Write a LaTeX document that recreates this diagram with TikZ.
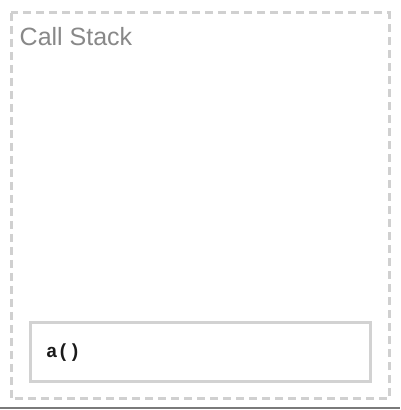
\documentclass[tikz,border=0pt]{standalone}
\usepackage{fontspec}
\setmainfont{Liberation Sans}
\setmonofont{Liberation Mono}
\usetikzlibrary{positioning}
\definecolor{stackBorder}{HTML}{D0D0D0}
\definecolor{stackTitle}{HTML}{888888}
\definecolor{frameBorder}{HTML}{D2D2D2}
\definecolor{frameText}{HTML}{1A1A1A}
\definecolor{edgeLine}{HTML}{7A7A7A}

\begin{document}
\begin{tikzpicture}[
  x=1pt,y=1pt,
  panel/.style={draw=stackBorder,line width=3pt,dash pattern=on 8pt off 5pt},
  title/.style={anchor=base west,inner sep=0pt,text=stackTitle,font=\fontsize{25}{29}\selectfont},
  frame/.style={rectangle,draw=frameBorder,line width=3pt,fill=white,minimum width=340pt,minimum height=59pt,inner sep=0pt},
  call/.style={anchor=west,inner sep=0pt,text=frameText,font=\ttfamily\bfseries\fontsize{19}{22}\selectfont}
]
\useasboundingbox (0,0) rectangle (400,410);
\fill[white] (0,0) rectangle (400,410);
\coordinate (nw) at (11,397);
\coordinate (se) at (389,11);
\draw[panel] (nw) rectangle (se);
\node[title] (stack) at (19.5,364.5) {Call Stack};
\node[frame] (a) at (200,57.5) {};
\node[call,right=17.5pt of a.west] (acall) {a()};
\coordinate (edgeL) at (0,1.5);
\coordinate (edgeR) at (400,1.5);
\draw[edgeLine,line width=2pt] (edgeL) -- (edgeR);
\end{tikzpicture}
\end{document}
